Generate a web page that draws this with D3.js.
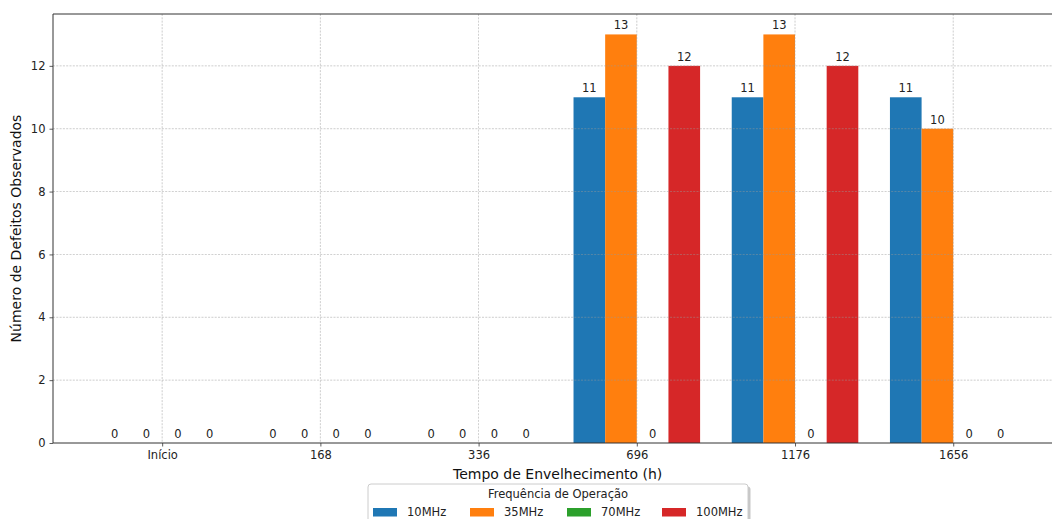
<!DOCTYPE html>
<html>
<head>
<meta charset="utf-8">
<script src="https://cdn.jsdelivr.net/npm/d3@7"></script>
<style>
  html, body { margin: 0; padding: 0; background: #fff; overflow: hidden; }
  svg { display: block; font-family: "DejaVu Sans", sans-serif; }
</style>
</head>
<body>
<svg id="chart" width="1052" height="519"></svg>
<script>
const categories = ["Início", "168", "336", "696", "1176", "1656"];
const seriesNames = ["10MHz", "35MHz", "70MHz", "100MHz"];
const values10 = [0, 0, 0, 11, 11, 11];
const values35 = [0, 0, 0, 13, 13, 10];
const values70 = [0, 0, 0, 0, 0, 0];
const values100 = [0, 0, 0, 12, 12, 0];
const seriesValues = [values10, values35, values70, values100];
const colors = ["#1f77b4", "#ff7f0e", "#2ca02c", "#d62728"];
const yTicks = [0, 2, 4, 6, 8, 10, 12];
const xTitle = "Tempo de Envelhecimento (h)";
const yTitle = "Número de Defeitos Observados";
const legendTitle = "Frequência de Operação";

(function () {
const svg = d3.select("#chart");
const pL = 53, pR = 1062.4, pT = 14, pB = 443;
const barW = 0.2;

const x = d3.scaleLinear().domain([-0.69, 5.69]).range([pL, pR]);
const y = d3.scaleLinear().domain([0, 13.65]).range([pB, pT]);

// bars
const flat = [];
seriesValues.forEach((vals, s) => vals.forEach((v, i) => flat.push({s, i, v})));
const gBars = svg.append("g");
gBars.selectAll("rect").data(flat).join("rect")
  .attr("x", d => x(d.i - 0.4 + d.s * barW))
  .attr("width", d => x(barW) - x(0))
  .attr("y", d => y(d.v))
  .attr("height", d => y(0) - y(d.v))
  .attr("fill", d => colors[d.s]);

// grid (drawn over bars)
const gGrid = svg.append("g");
gGrid.selectAll("line.h").data(yTicks.slice(1)).join("line")
  .attr("x1", pL).attr("x2", pR)
  .attr("y1", d => y(d)).attr("y2", d => y(d))
  .attr("stroke", "#999").attr("stroke-width", 0.8)
  .attr("stroke-dasharray", "2,1.3").attr("opacity", 0.6);
gGrid.selectAll("line.v").data(categories.map((c, i) => i)).join("line")
  .attr("x1", d => x(d)).attr("x2", d => x(d))
  .attr("y1", pT).attr("y2", pB)
  .attr("stroke", "#999").attr("stroke-width", 0.8)
  .attr("stroke-dasharray", "2,1.3").attr("opacity", 0.6);

// value labels
svg.append("g").selectAll("text").data(flat).join("text")
  .attr("x", d => x(d.i - 0.4 + d.s * barW + barW / 2))
  .attr("y", d => y(d.v) - 5)
  .attr("text-anchor", "middle")
  .attr("font-size", 11.5)
  .attr("fill", "#222")
  .text(d => d.v);

// axes
const xAxis = d3.axisBottom(x).tickValues(categories.map((c, i) => i))
  .tickFormat(i => categories[i]).tickSize(3.5).tickPadding(4);
const gx = svg.append("g").attr("transform", `translate(0,${pB})`).call(xAxis);
const yAxis = d3.axisLeft(y).tickValues(yTicks).tickSize(3.5).tickPadding(4);
const gy = svg.append("g").attr("transform", `translate(${pL},0)`).call(yAxis);
[gx, gy].forEach(g => {
  g.select(".domain").remove();
  g.selectAll(".tick line").attr("stroke", "#333").attr("stroke-width", 0.8);
  g.selectAll(".tick text").attr("font-size", 11.5).attr("fill", "#222")
    .attr("font-family", "DejaVu Sans, sans-serif");
});

// spines
svg.append("line").attr("x1", pL).attr("x2", pR).attr("y1", pB).attr("y2", pB)
  .attr("stroke", "#333").attr("stroke-width", 1);
svg.append("line").attr("x1", pL).attr("x2", pR).attr("y1", pT).attr("y2", pT)
  .attr("stroke", "#333").attr("stroke-width", 1);
svg.append("line").attr("x1", pL).attr("x2", pL).attr("y1", pT).attr("y2", pB)
  .attr("stroke", "#333").attr("stroke-width", 1);

// axis titles
svg.append("text").attr("x", (pL + pR) / 2).attr("y", 479)
  .attr("text-anchor", "middle").attr("font-size", 14).attr("fill", "#111").text(xTitle);
svg.append("text").attr("transform", `translate(21,${(pT + pB) / 2}) rotate(-90)`)
  .attr("text-anchor", "middle").attr("font-size", 14).attr("fill", "#111").text(yTitle);

// legend
const lg = svg.append("g");
const lx = 368, ly = 484, lw = 380, lh = 50;
lg.append("rect").attr("x", lx + 2.5).attr("y", ly + 2.5).attr("width", lw).attr("height", lh)
  .attr("rx", 3).attr("fill", "#999").attr("opacity", 0.55);
lg.append("rect").attr("x", lx).attr("y", ly).attr("width", lw).attr("height", lh)
  .attr("rx", 3).attr("fill", "#fff").attr("stroke", "#ccc").attr("stroke-width", 1);
lg.append("text").attr("x", lx + lw / 2).attr("y", 498).attr("text-anchor", "middle")
  .attr("font-size", 11.5).attr("fill", "#222").text(legendTitle);
const itemX = [373, 470, 567, 662];
seriesNames.forEach((n, i) => {
  lg.append("rect").attr("x", itemX[i]).attr("y", 508).attr("width", 24).attr("height", 8.5)
    .attr("fill", colors[i]);
  lg.append("text").attr("x", itemX[i] + 34).attr("y", 516)
    .attr("font-size", 11.5).attr("fill", "#222").text(n);
});
})();
</script>
</body>
</html>
